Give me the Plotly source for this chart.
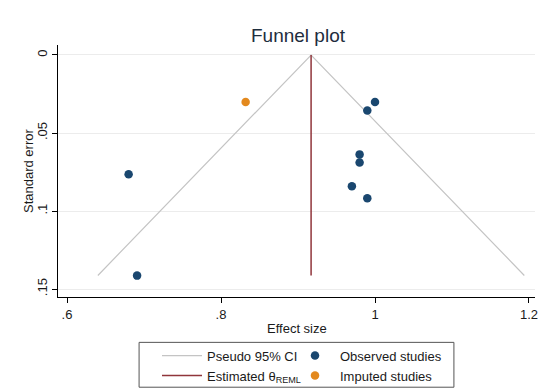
import plotly.graph_objects as go

theta = 0.917
se_max = 0.1413
ci_x = [theta - 1.96 * se_max, theta, theta + 1.96 * se_max]
ci_y = [se_max, 0.0, se_max]
theta_x = [theta, theta]
theta_y = [0.0, se_max]

obs_effect = [1.000, 0.990, 0.980, 0.980, 0.680, 0.970, 0.990, 0.691]
obs_se = [0.0302, 0.0356, 0.0637, 0.0689, 0.0764, 0.0841, 0.0918, 0.1414]
imp_effect = [0.832]
imp_se = [0.0302]

x_ticks = [0.6, 0.8, 1.0, 1.2]
x_labels = [".6", ".8", "1", "1.2"]
y_ticks = [0, 0.05, 0.1, 0.15]
y_labels = ["0", ".05", ".1", ".15"]

FONT = "Arial, Liberation Sans, sans-serif"
TXT = "#1a1a1a"
fig = go.Figure()
fig.add_trace(go.Scatter(x=ci_x, y=ci_y, mode="lines", name="Pseudo 95% CI",
                         line=dict(color="#c4c4c4", width=1.2), legend="legend"))
fig.add_trace(go.Scatter(x=theta_x, y=theta_y, mode="lines", name="Estimated θ<sub>REML</sub>",
                         line=dict(color="#90353b", width=1.5), legend="legend"))
fig.add_trace(go.Scatter(x=obs_effect, y=obs_se, mode="markers", name="Observed studies",
                         marker=dict(color="#1a476f", size=8.5), legend="legend2"))
fig.add_trace(go.Scatter(x=imp_effect, y=imp_se, mode="markers", name="Imputed studies",
                         marker=dict(color="#e3891e", size=8.5), legend="legend2"))

leg_common = dict(bgcolor="rgba(0,0,0,0)", borderwidth=0, font=dict(family=FONT, size=13, color=TXT),
                  orientation="v", yanchor="top", xanchor="left", tracegroupgap=0, itemwidth=40,
                  xref="container", yref="container")

fig.update_layout(
    width=545, height=388,
    margin=dict(l=58, r=10, t=45, b=91, autoexpand=False),
    paper_bgcolor="white", plot_bgcolor="white",
    title=dict(text="Funnel plot", x=298 / 545, xanchor="center", y=1 - 35 / 388, yanchor="middle",
               xref="container", yref="container",
               font=dict(family=FONT, size=19, color="#1e2d3d")),
    font=dict(family=FONT, size=13, color=TXT),
    xaxis=dict(range=[0.5883, 1.2078], tickvals=x_ticks, ticktext=x_labels, showgrid=False,
               zeroline=False, showline=True, linecolor="#000", linewidth=1,
               ticks="outside", ticklen=5, tickcolor="#000", automargin=False,
               tickfont=dict(size=13, color=TXT)),
    yaxis=dict(range=[0.1551, -0.0064], tickvals=y_ticks, ticktext=y_labels, showgrid=True,
               gridcolor="#ececec", gridwidth=1, zeroline=False, showline=True, linecolor="#000",
               linewidth=1, ticks="outside", ticklen=5, tickcolor="#000", tickangle=-90,
               automargin=False, tickfont=dict(size=13, color=TXT)),
    legend=dict(x=157 / 545, y=0.122, **leg_common),
    legend2=dict(x=290 / 545, y=0.122, **leg_common),
    annotations=[
        dict(text="Effect size", xref="paper", yref="paper", x=0.5, y=(297 - 328) / 252,
             xanchor="center", yanchor="middle", showarrow=False, font=dict(size=13, color=TXT)),
        dict(text="Standard error", xref="paper", yref="paper", x=(28 - 58) / 477, y=0.5,
             xanchor="center", yanchor="middle", textangle=-90, showarrow=False,
             font=dict(size=13, color=TXT)),
    ],
    shapes=[dict(type="rect", xref="paper", yref="paper", x0=0.170, x1=0.830, y0=-0.358, y1=-0.180,
                 line=dict(color="#555", width=1), fillcolor="rgba(0,0,0,0)")],
)

fig.write_html("out.html", config={"displayModeBar": False},
               post_script="document.body.style.margin='0';")
